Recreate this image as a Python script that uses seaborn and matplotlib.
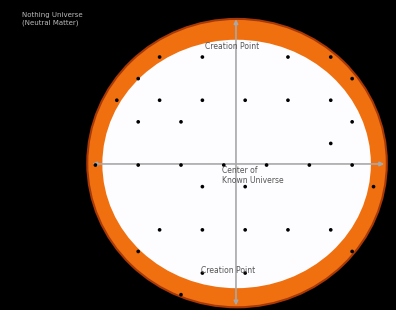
import matplotlib
matplotlib.use("Agg")
import matplotlib.pyplot as plt
from matplotlib.patches import Ellipse
import pandas as pd
import seaborn as sns

# grid positions of the dots (one unit = one grid step, origin = centre of the universe)
dot_x = [-3.5, -1.5, -4.5, -5.5, -3.5, -1.5, -4.5, -2.5,
         2.5, 4.5, 5.5, 0.5, 2.5, 4.5, 5.5, 4.5,
         -6.5, -4.5, -2.5, -0.5, -1.5, -3.5, -1.5, -4.5, -1.5, -2.5,
         1.5, 3.5, 5.5, 0.5, 6.5, 0.5, 2.5, 4.5, 5.5, 0.5]
dot_y = [5, 5, 4, 3, 3, 3, 2, 2,
         5, 5, 4, 3, 3, 3, 2, 1,
         0, 0, 0, 0, -1, -3, -3, -4, -5, -6,
         0, 0, 0, -1, -1, -3, -3, -3, -4, -5]

title_text = "Nothing Universe\n(Neutral Matter)"
top_label = "Creation Point"
bottom_label = "Creation Point"
center_label = "Center of\nKnown Universe"

df = pd.DataFrame({"x": dot_x, "y": dot_y})

sns.set_style("white")
fig = plt.figure(figsize=(3.96, 3.10), dpi=100, facecolor="black")
ax = fig.add_axes([0, 0, 1, 1])
ax.set_facecolor("black")

# orange shell and white interior
ax.add_patch(Ellipse((0.12, 0.09), 14.0, 13.35, facecolor="#f0700f", edgecolor="#a83808", lw=1.5, zorder=1))
ax.add_patch(Ellipse((0.1, 0.05), 12.55, 11.5, facecolor="#fdfdff", edgecolor="none", zorder=2))

# axes lines with arrows
ax.annotate("", xy=(-6.65, 0.05), xytext=(7.0, 0.05),
            arrowprops=dict(arrowstyle="<|-|>", color="#a8a8a8", lw=1.2,
                            mutation_scale=6, shrinkA=0, shrinkB=0), zorder=3)
ax.annotate("", xy=(0.07, 6.75), xytext=(0.07, -6.5),
            arrowprops=dict(arrowstyle="<|-|>", color="#a8a8a8", lw=1.2,
                            mutation_scale=6, shrinkA=0, shrinkB=0), zorder=3)

sns.scatterplot(data=df, x="x", y="y", ax=ax, color="black", s=7,
                edgecolor="none", zorder=4, legend=False)

ax.text(-0.12, 5.5, top_label, fontsize=5.5, color="#555555", ha="center", va="center", zorder=5)
ax.text(-0.3, -4.9, bottom_label, fontsize=5.5, color="#555555", ha="center", va="center", zorder=5)
ax.text(-0.58, -0.48, center_label, fontsize=5.5, color="#555555", ha="left", va="center",
        linespacing=1.1, zorder=5)

fig.text(0.056, 0.96, title_text, fontsize=5, color="#bbbbbb", ha="left", va="top", linespacing=1.2)

ax.set_xlim(-10.96, 7.55)
ax.set_ylim(-6.71, 7.64)
ax.set_xlabel("")
ax.set_ylabel("")
ax.axis("off")

fig.savefig("out.png", dpi=100, facecolor="black")
